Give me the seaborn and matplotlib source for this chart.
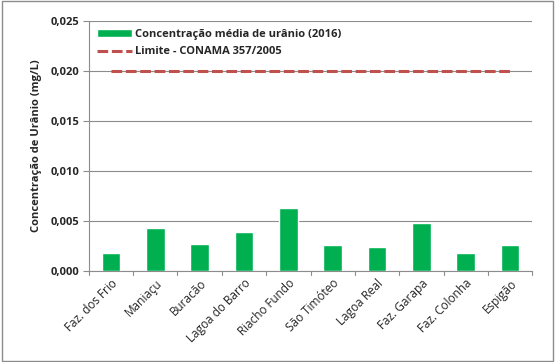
import numpy as np
import pandas as pd
import seaborn as sns
import matplotlib.pyplot as plt

locais = ["Faz. dos Frio", "Maniaçu", "Buracão", "Lagoa do Barro", "Riacho Fundo",
          "São Timóteo", "Lagoa Real", "Faz. Garapa", "Faz. Colonha", "Espigão"]
concentracao = [0.0018, 0.0043, 0.0027, 0.0039, 0.0063, 0.0026, 0.0024, 0.0048, 0.0018, 0.0026]
limite = [0.020] * len(locais)
yticks = [0.000, 0.005, 0.010, 0.015, 0.020, 0.025]

sns.set_style("white")
plt.rcParams['font.family'] = ['Open Sans', 'DejaVu Sans']

df = pd.DataFrame({"local": locais, "conc": concentracao, "limite": limite})

fig = plt.figure(figsize=(5.55, 3.62), dpi=100)
ax = fig.add_axes([0.160, 0.251, 0.799, 0.691])

sns.barplot(data=df, x="local", y="conc", color="#00B050", width=0.42, ax=ax,
            saturation=1, label="Concentração média de urânio (2016)", zorder=3)
sns.lineplot(data=df, x="local", y="limite", color="#C0504D", linestyle=(0, (3.5, 1.2)),
             linewidth=2.2, ax=ax, label="Limite - CONAMA 357/2005", zorder=4)

ax.set_ylim(0, 0.025)
ax.set_xlim(-0.5, len(locais) - 0.5)
ax.set_yticks(yticks)
ax.set_yticklabels([f"{v:.3f}".replace(".", ",") for v in yticks], fontsize=8, fontweight="bold")
ax.yaxis.grid(True, color="#8c8c8c", linewidth=0.8, zorder=0)
ax.set_axisbelow(True)

ax.set_xticks(np.arange(len(locais)))
ax.set_xticklabels(locais, rotation=45, ha="right", rotation_mode="anchor", fontsize=8.5)
ax.tick_params(axis="x", length=0, pad=4)
ax.tick_params(axis="y", length=4, color="#8c8c8c", left=True, pad=3)
for b in np.arange(len(locais) + 1) - 0.5:
    ax.plot([b, b], [0, -0.0004], color="#8c8c8c", linewidth=0.8, clip_on=False)

for s in ["top", "right"]:
    ax.spines[s].set_visible(False)
for s in ["left", "bottom"]:
    ax.spines[s].set_color("#8c8c8c")
    ax.spines[s].set_linewidth(0.8)

ax.set_xlabel("")
ax.set_ylabel("Concentração de Urânio (mg/L)", fontsize=8, fontweight="bold", labelpad=6)

handles, labels = ax.get_legend_handles_labels()
order = [labels.index("Concentração média de urânio (2016)"), labels.index("Limite - CONAMA 357/2005")]
ax.legend([handles[i] for i in order], [labels[i] for i in order],
          loc="upper left", frameon=False, handlelength=3.2,
          borderaxespad=0.3, handletextpad=0.3, labelspacing=0.6,
          prop={"weight": "bold", "size": 8})

fig.patches.append(plt.Rectangle((0.003, 0.004), 0.994, 0.992, transform=fig.transFigure,
                                 fill=False, edgecolor="#8c8c8c", linewidth=1))

fig.savefig("out.png", dpi=100)
